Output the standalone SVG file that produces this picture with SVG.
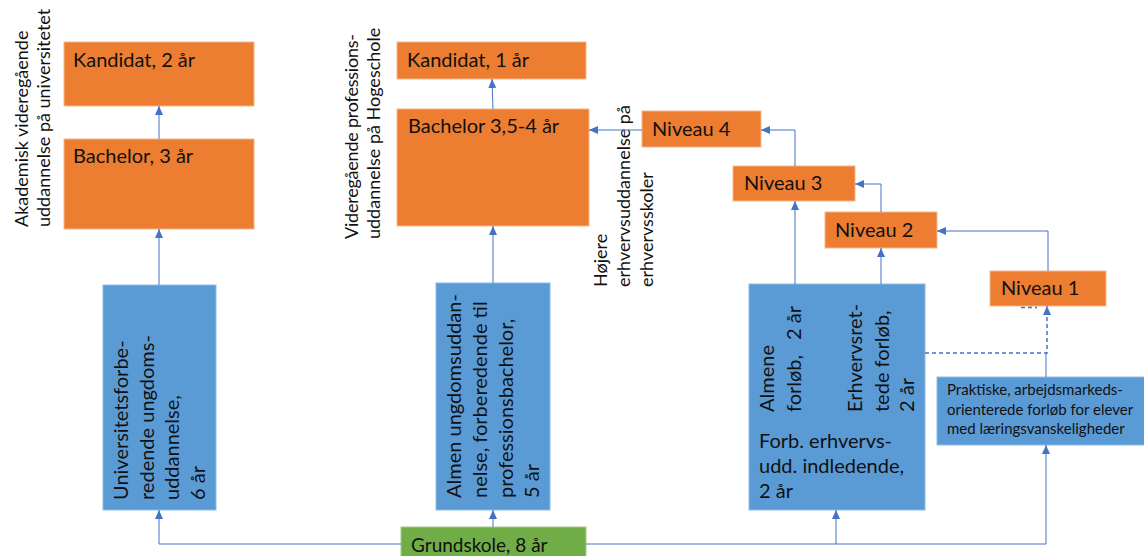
<svg xmlns="http://www.w3.org/2000/svg" width="1144" height="556" viewBox="0 0 1144 556">
<style>
text{font-family:Lato,"Open Sans","Liberation Sans",sans-serif;fill:#111;}
.t20{font-size:20px;}
.t19{font-size:19px;}
.t18{font-size:18px;}
.t15{font-size:15px;}
.or{fill:#ED7D31;stroke:#F5B88C;stroke-width:1;}
.bl{fill:#5B9BD5;stroke:#8DBBE6;stroke-width:1;}
.gr{fill:#70AD47;stroke:#A3CC88;stroke-width:1;}
.cn{fill:none;stroke:#4472C4;stroke-width:1;}
.ds{fill:none;stroke:#4472C4;stroke-width:1.5;stroke-dasharray:4 3;}
</style>
<defs>
<marker id="ah" markerUnits="userSpaceOnUse" markerWidth="9" markerHeight="8" refX="9" refY="4" orient="auto">
<path d="M0,0 L9,4 L0,8 z" fill="#4472C4"/>
</marker>
</defs>
<rect width="1144" height="556" fill="#fff"/>

<g id="labels">
<text class="t18" transform="translate(28,227) rotate(-90)">Akademisk videregående</text>
<text class="t18" transform="translate(50,227) rotate(-90)">uddannelse på universitetet</text>
<text class="t18" transform="translate(358,239) rotate(-90)" textLength="205" lengthAdjust="spacing">Videregående  professions-</text>
<text class="t18" transform="translate(380,239) rotate(-90)">uddannelse på Hogeschole</text>
<text class="t18" transform="translate(607,287) rotate(-90)">Højere</text>
<text class="t18" transform="translate(630,287) rotate(-90)">erhvervsuddannelse på</text>
<text class="t18" transform="translate(653,287) rotate(-90)">erhvervsskoler</text>
</g>

<g id="kandidat2">
<rect class="or" x="64" y="42" width="190" height="64"/>
<text class="t20" x="73" y="67">Kandidat, 2 år</text>
</g>
<g id="bachelor3">
<rect class="or" x="64" y="139" width="190" height="90"/>
<text class="t20" x="73" y="163">Bachelor, 3 år</text>
</g>
<g id="kandidat1">
<rect class="or" x="397" y="42" width="189" height="37"/>
<text class="t20" x="407" y="67">Kandidat, 1 år</text>
</g>
<g id="bachelor35">
<rect class="or" x="397" y="109" width="192" height="117"/>
<text class="t20" x="408" y="133">Bachelor 3,5-4 år</text>
</g>
<g id="niveau4">
<rect class="or" x="642" y="111" width="119" height="36"/>
<text class="t20" x="652" y="136">Niveau 4</text>
</g>
<g id="niveau3">
<rect class="or" x="733" y="166" width="122" height="35"/>
<text class="t20" x="744" y="190">Niveau 3</text>
</g>
<g id="niveau2">
<rect class="or" x="825" y="212" width="112" height="36"/>
<text class="t20" x="835" y="237">Niveau 2</text>
</g>
<g id="niveau1">
<rect class="or" x="990" y="271" width="116" height="35"/>
<text class="t20" x="1001" y="295">Niveau 1</text>
</g>

<g id="universitetsforb">
<rect class="bl" x="103" y="285" width="113" height="225"/>
<text class="t20" transform="translate(128,500) rotate(-90)">Universitetsforbe-</text>
<text class="t20" transform="translate(153.5,500) rotate(-90)">redende ungdoms-</text>
<text class="t20" transform="translate(179,500) rotate(-90)">uddannelse,</text>
<text class="t20" transform="translate(204.5,500) rotate(-90)">6 år</text>
</g>
<g id="almen">
<rect class="bl" x="436" y="283" width="114" height="227"/>
<text class="t20" transform="translate(461,498) rotate(-90)">Almen ungdomsuddan-</text>
<text class="t20" transform="translate(487,498) rotate(-90)">nelse, forberedende til</text>
<text class="t20" transform="translate(513,498) rotate(-90)">professionsbachelor,</text>
<text class="t20" transform="translate(539,498) rotate(-90)">5 år</text>
</g>
<g id="forb">
<rect class="bl" x="749" y="284" width="176" height="226"/>
<text class="t20" transform="translate(774,412) rotate(-90)">Almene</text>
<text class="t20" transform="translate(801,412) rotate(-90)">forløb,<tspan dx="15">2 år</tspan></text>
<text class="t20" transform="translate(862,412) rotate(-90)">Erhvervsret-</text>
<text class="t20" transform="translate(889,412) rotate(-90)">tede forløb,</text>
<text class="t20" transform="translate(914,412) rotate(-90)">2 år</text>
<text class="t20" x="759" y="448">Forb. erhvervs-</text>
<text class="t20" x="759" y="473">udd. indledende,</text>
<text class="t20" x="759" y="498">2 år</text>
</g>
<g id="praktiske">
<rect class="bl" x="937" y="377" width="210" height="68"/>
<text class="t15" x="947" y="395">Praktiske, arbejdsmarkeds-</text>
<text class="t15" x="947" y="415">orienterede forløb for elever</text>
<text class="t15" x="947" y="434">med læringsvanskeligheder</text>
</g>
<g id="grundskole">
<rect class="gr" x="401" y="527" width="185" height="35"/>
<text class="t19" x="411" y="552">Grundskole, 8 år</text>
</g>

<g id="connectors">
<path class="cn" d="M159,139 V106" marker-end="url(#ah)"/>
<path class="cn" d="M159,285 V229" marker-end="url(#ah)"/>
<path class="cn" d="M493,109 L492,79" marker-end="url(#ah)"/>
<path class="cn" d="M493,283 V226" marker-end="url(#ah)"/>
<path class="cn" d="M642,130 H589" marker-end="url(#ah)"/>
<path class="cn" d="M795,166 V130 H761" marker-end="url(#ah)"/>
<path class="cn" d="M881,212 V184 H855" marker-end="url(#ah)"/>
<path class="cn" d="M1048,271 V231 H937" marker-end="url(#ah)"/>
<path class="cn" d="M795,284 V201" marker-end="url(#ah)"/>
<path class="cn" d="M881,284 V248" marker-end="url(#ah)"/>
<path class="cn" d="M401,544 H159 V510" marker-end="url(#ah)"/>
<path class="cn" d="M493,527 V510" marker-end="url(#ah)"/>
<path class="cn" d="M586,544 H1046 V445" marker-end="url(#ah)"/>
<path class="cn" d="M836,544 V510" marker-end="url(#ah)"/>
<path class="cn" d="M1046,377 V353"/>
<path class="ds" d="M925,353 H1047 V306" marker-end="url(#ah)"/>
<path class="ds" d="M1021,307.5 H1037"/>
</g>
</svg>
